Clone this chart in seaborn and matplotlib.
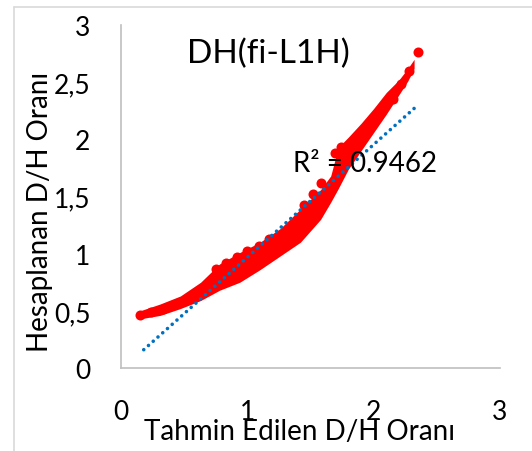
import numpy as np
import pandas as pd
import matplotlib
matplotlib.use("Agg")
import matplotlib.pyplot as plt
from matplotlib.lines import Line2D
import seaborn as sns

# ---- data ----
band_x     = [0.15, 0.31, 0.47, 0.63, 0.78, 0.94, 1.10, 1.26, 1.42, 1.58, 1.66, 1.72, 1.80, 1.90, 2.00, 2.10, 2.20, 2.27, 2.32]
band_upper = [0.50, 0.56, 0.63, 0.75, 0.91, 1.01, 1.10, 1.22, 1.39, 1.56, 1.68, 1.93, 2.02, 2.14, 2.27, 2.41, 2.52, 2.62, 2.70]
band_lower = [0.43, 0.46, 0.52, 0.59, 0.68, 0.75, 0.86, 0.98, 1.10, 1.30, 1.45, 1.57, 1.74, 1.90, 2.06, 2.22, 2.39, 2.51, 2.62]

pts_x = [0.15, 0.24, 0.33, 0.75, 0.83, 0.92, 1.00, 1.09, 1.17, 1.45, 1.52, 1.58, 1.69, 1.74, 2.15, 2.22, 2.28, 2.35]
pts_y = [0.465, 0.49, 0.52, 0.87, 0.92, 0.97, 1.02, 1.07, 1.13, 1.43, 1.52, 1.62, 1.88, 1.93, 2.35, 2.48, 2.60, 2.76]

trend_x = [0.18, 2.32]
trend_y = [0.16, 2.27]

x_ticks = [0, 1, 2, 3]
y_ticks = [0, 0.5, 1, 1.5, 2, 2.5, 3]
y_tick_labels = ["0", "0,5", "1", "1,5", "2", "2,5", "3"]

title_text = "DH(fi-L1H)"
r2_text = "R² = 0.9462"
x_label = "Tahmin Edilen D/H Oranı"
y_label = "Hesaplanan D/H Oranı"

# ---- style ----
sns.set_theme(style="white")
plt.rcParams["font.family"] = ["Lato", "DejaVu Sans"]

W, H = 532, 452
fig = plt.figure(figsize=(W / 100, H / 100), dpi=100)
ax = fig.add_axes([121 / W, 1 - 369 / H, 379 / W, 343 / H])

RED = "#FF0000"

ax.fill_between(band_x, band_lower, band_upper, color=RED, lw=0, zorder=2)
df_pts = pd.DataFrame({"x": pts_x, "y": pts_y})
sns.scatterplot(data=df_pts, x="x", y="y", color=RED, s=52, linewidth=0, ax=ax, zorder=3)

df_tr = pd.DataFrame({"x": trend_x, "y": trend_y})
sns.lineplot(data=df_tr, x="x", y="y", color="#0070C0", lw=2.6, ax=ax,
             linestyle=(0, (0.01, 1.75)), dash_capstyle="round", zorder=4)

ax.set_xlim(0, 3)
ax.set_ylim(0, 3)
ax.set_xticks(x_ticks)
ax.set_xticklabels([str(t) for t in x_ticks])
ax.set_yticks(y_ticks)
ax.set_yticklabels(y_tick_labels)
ax.tick_params(axis="both", length=0, labelsize=19, colors="black")
ax.tick_params(axis="x", pad=22)
ax.tick_params(axis="y", pad=22)

for s in ["top", "right"]:
    ax.spines[s].set_visible(False)
for s in ["left", "bottom"]:
    ax.spines[s].set_color("#BFBFBF")
    ax.spines[s].set_linewidth(1.2)

ax.set_xlabel(x_label, fontsize=20, color="black")
ax.set_ylabel(y_label, fontsize=20, color="black")
ax.xaxis.label.set_va("center")
ax.yaxis.label.set_va("center")
ax.xaxis.set_label_coords((300 - 121) / 379, (369 - 432) / 343)
ax.yaxis.set_label_coords((40 - 121) / 379, (369 - 212) / 343)

ax.text((268.5 - 121) / 379, (369 - 63.3) / 343, title_text, transform=ax.transAxes,
        ha="center", va="baseline", fontsize=24, color="black", zorder=5)
ax.text((293 - 121) / 379, (369 - 171.7) / 343, r2_text, transform=ax.transAxes,
        ha="left", va="baseline", fontsize=20, color="black", zorder=5)

# chart-area border (partially visible)
fig.add_artist(Line2D([14 / W, 14 / W], [0, 1 - 8 / H], transform=fig.transFigure,
                      color="#D9D9D9", lw=1.2))
fig.add_artist(Line2D([14 / W, 1], [1 - 8 / H, 1 - 8 / H], transform=fig.transFigure,
                      color="#D9D9D9", lw=1.2))

fig.savefig("out.png", dpi=100)
